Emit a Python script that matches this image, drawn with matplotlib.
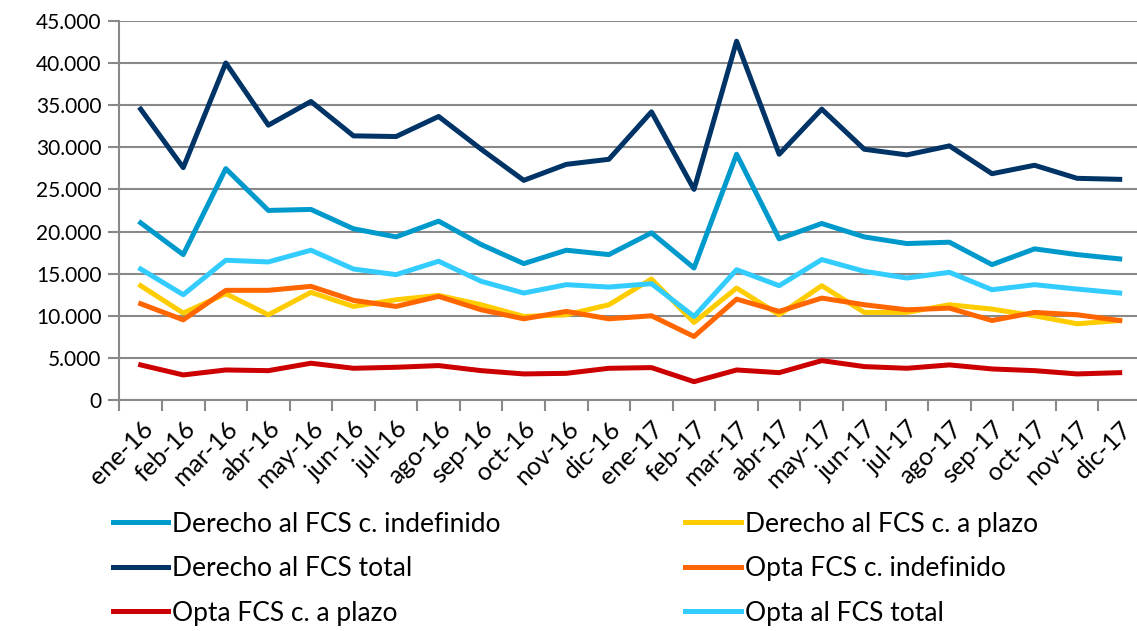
import matplotlib.pyplot as plt
import numpy as np
from matplotlib.ticker import MultipleLocator, FuncFormatter, FixedLocator

plt.rcParams['font.family'] = ['Lato', 'DejaVu Sans']

meses = ['ene-16', 'feb-16', 'mar-16', 'abr-16', 'may-16', 'jun-16', 'jul-16', 'ago-16',
         'sep-16', 'oct-16', 'nov-16', 'dic-16', 'ene-17', 'feb-17', 'mar-17', 'abr-17',
         'may-17', 'jun-17', 'jul-17', 'ago-17', 'sep-17', 'oct-17', 'nov-17', 'dic-17']

derecho_indef = [21030, 17260, 27460, 22500, 22620, 20320, 19360, 21230, 18450, 16190, 17780, 17260,
                 19840, 15670, 29170, 19130, 20950, 19360, 18570, 18730, 16070, 17940, 17260, 16750]
derecho_plazo = [13570, 10320, 12620, 10120, 12780, 11110, 11900, 12420, 11310, 9920, 10120, 11310,
                 14360, 9210, 13290, 10120, 13570, 10400, 10400, 11310, 10790, 10000, 9050, 9440]
derecho_total = [34520, 27580, 40000, 32620, 35430, 31350, 31270, 33650, 29760, 26070, 27970, 28570,
                 34200, 25000, 42580, 29170, 34520, 29760, 29090, 30160, 26860, 27860, 26310, 26190]
opta_indef = [11430, 9520, 13020, 13020, 13490, 11830, 11110, 12300, 10710, 9640, 10520, 9640,
              10000, 7540, 11980, 10520, 12100, 11310, 10710, 10910, 9440, 10400, 10120, 9440]
opta_plazo = [4170, 2980, 3570, 3490, 4370, 3770, 3890, 4090, 3490, 3100, 3170, 3770,
              3850, 2180, 3570, 3250, 4680, 3970, 3770, 4170, 3690, 3490, 3100, 3250]
opta_total = [15550, 12500, 16590, 16390, 17780, 15550, 14880, 16470, 14090, 12700, 13690, 13410,
              13810, 9920, 15470, 13570, 16670, 15280, 14480, 15160, 13090, 13690, 13170, 12700]

fig = plt.figure(figsize=(11.37, 6.31), dpi=100)
# el área de trazado se sale un poco por la derecha, como en el original
ax = fig.add_axes([0.105, 0.366, 0.8985, 0.601])

x = np.arange(len(meses))
lw = 3.6
l1, = ax.plot(x, derecho_indef, color='#0099CC', lw=lw, label='Derecho al FCS c. indefinido')
l2, = ax.plot(x, derecho_plazo, color='#FFCC00', lw=lw, label='Derecho al FCS c. a plazo')
l3, = ax.plot(x, derecho_total, color='#003366', lw=lw, label='Derecho al FCS total')
l4, = ax.plot(x, opta_indef, color='#FF6600', lw=lw, label='Opta FCS c. indefinido')
l5, = ax.plot(x, opta_plazo, color='#CC0000', lw=lw, label='Opta FCS c. a plazo')
l6, = ax.plot(x, opta_total, color='#33CCFF', lw=lw, label='Opta al FCS total')

ax.set_ylim(0, 45000)
ax.set_xlim(-0.5, len(meses) - 0.5)
ax.yaxis.set_major_locator(MultipleLocator(5000))
ax.yaxis.set_major_formatter(FuncFormatter(lambda v, p: f'{int(v):,}'.replace(',', '.')))
ax.grid(axis='y', color='#898989', lw=1.5)
ax.set_axisbelow(True)

ax.set_xticks(x)
ax.set_xticklabels(meses, rotation=45, ha='right', rotation_mode='anchor')
ax.xaxis.set_minor_locator(FixedLocator(np.arange(-0.5, len(meses), 1)))
ax.tick_params(axis='x', which='major', length=0, pad=12, labelsize=18)
ax.tick_params(axis='x', which='minor', length=8, width=1.5, color='#898989')
ax.tick_params(axis='y', length=8, width=1.5, color='#898989', labelsize=15, pad=5)

for s in ['top', 'right']:
    ax.spines[s].set_visible(False)
for s in ['left', 'bottom']:
    ax.spines[s].set_color('#898989')
    ax.spines[s].set_linewidth(1.5)

handles = [l1, l3, l5, l2, l4, l6]
fig.legend(handles=handles, labels=[h.get_label() for h in handles], ncol=2,
           loc='upper left', bbox_to_anchor=(0.09, 0.206), frameon=False,
           fontsize=19, handlelength=2.1, handletextpad=0.15, columnspacing=7.0,
           labelspacing=0.74, borderaxespad=0)

plt.savefig('out.png', dpi=100)
